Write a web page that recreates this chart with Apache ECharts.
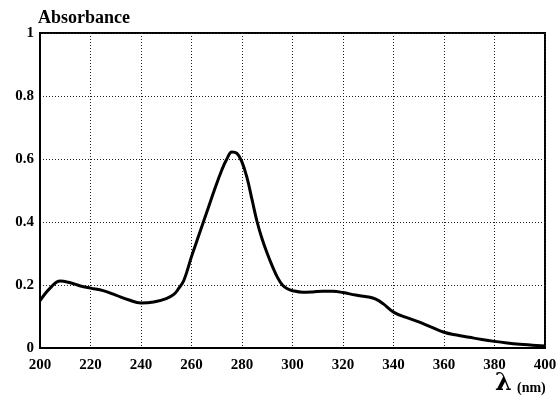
<!DOCTYPE html>
<html>
<head>
<meta charset="utf-8">
<script src="https://cdn.jsdelivr.net/npm/echarts@6/dist/echarts.min.js"></script>
<style>html,body{margin:0;padding:0;background:#fff}#c{width:558px;height:396px}</style>
</head>
<body>
<div id="c"></div>
<script>
var wavelengths = [200,204,208,212,216,220,225,230,235,240,245,250,253,255,257,260,263,266,269,272,274,276,278,280,282,284,286,288,290,292,294,296,298,300,304,308,312,316,320,325,330,333,336,340,345,350,355,360,365,370,375,380,385,390,395,400];
var absorbance = [0.15,0.19,0.213,0.207,0.197,0.19,0.182,0.168,0.153,0.143,0.146,0.157,0.17,0.19,0.215,0.29,0.36,0.43,0.50,0.565,0.60,0.622,0.618,0.59,0.54,0.47,0.40,0.345,0.30,0.26,0.225,0.2,0.188,0.182,0.177,0.178,0.18,0.18,0.176,0.168,0.162,0.155,0.14,0.114,0.097,0.083,0.066,0.05,0.041,0.034,0.027,0.021,0.016,0.012,0.009,0.006];
var xTicks = [200,220,240,260,280,300,320,340,360,380,400];
var yTicks = [0,0.2,0.4,0.6,0.8,1];
var xTitle = 'λ';
var xUnit = '(nm)';
var yTitle = 'Absorbance';

var font = '"Liberation Serif", "DejaVu Serif", serif';
var chart = echarts.init(document.getElementById('c'));
chart.setOption({
  animation: false,
  backgroundColor: '#fff',
  grid: {left: 40, right: 13, top: 33, bottom: 48, containLabel: false, outerBoundsMode: 'none',
    show: true, borderColor: '#000', borderWidth: 2, backgroundColor: 'transparent'},
  graphic: [
    {type: 'text', left: 38, top: 9, z: 10,
      style: {text: yTitle, fill: '#000', font: 'bold 18px ' + font}},
    {type: 'text', left: 495, top: 372, z: 10,
      style: {text: xTitle, fill: '#000', font: 'bold 24px "DejaVu Serif", serif'}},
    {type: 'text', left: 517, top: 381, z: 10,
      style: {text: xUnit, fill: '#000', font: 'bold 14px ' + font}}
  ],
  xAxis: {
    type: 'value', min: 200, max: 400, interval: 20,
    axisLine: {show: true, lineStyle: {color: '#000', width: 2}},
    axisTick: {show: false},
    splitLine: {show: true, lineStyle: {color: '#222', type: [1, 2], width: 1}},
    axisLabel: {color: '#000', fontFamily: font, fontWeight: 'bold', fontSize: 15, margin: 10,
      formatter: function (v) { return xTicks.indexOf(v) >= 0 ? String(v) : ''; }}
  },
  yAxis: {
    type: 'value', min: 0, max: 1, interval: 0.2,
    axisLine: {show: true, lineStyle: {color: '#000', width: 2}},
    axisTick: {show: false},
    splitLine: {show: true, lineStyle: {color: '#222', type: [1, 2], width: 1}},
    axisLabel: {color: '#000', fontFamily: font, fontWeight: 'bold', fontSize: 15, margin: 6,
      formatter: function (v) { return String(Math.round(v * 10) / 10); }}
  },
  series: [{
    type: 'line', smooth: 0.4, showSymbol: false,
    data: wavelengths.map(function (w, i) { return [w, absorbance[i]]; }),
    lineStyle: {color: '#000', width: 3},
    z: 5
  }]
});
</script>
</body>
</html>
